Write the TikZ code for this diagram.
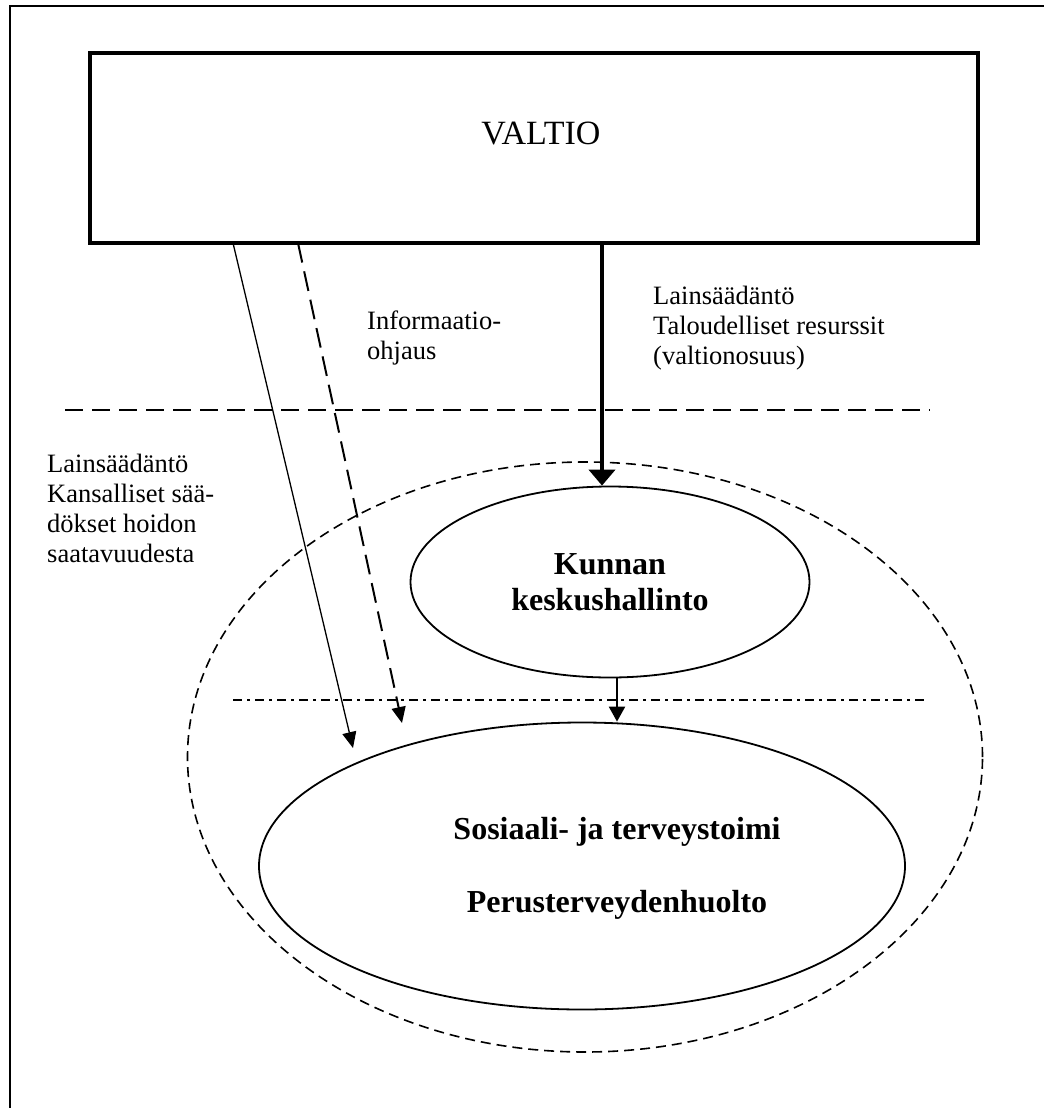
\documentclass[tikz,border=0pt]{standalone}
\usepackage{fontspec}
\setmainfont{Liberation Serif}
\usetikzlibrary{arrows.meta,shapes.geometric,calc}

\tikzset{
  lbl/.style={font=\fontsize{26.5}{30}\selectfont, align=left, inner sep=0pt, anchor=north west},
  titlebox/.style={draw, line width=4pt, rectangle, inner sep=0pt},
  oval/.style={draw, line width=1.8pt, ellipse, inner sep=0pt,
               font=\bfseries\fontsize{32}{36}\selectfont, align=center},
  ovaltext/.style={font=\bfseries\fontsize{32}{36}\selectfont, align=center, inner sep=0pt},
  bigoval/.style={draw, line width=1.6pt, ellipse, inner sep=0pt,
                  dash pattern=on 10pt off 6pt},
  divider/.style={line width=1.5pt, dash pattern=on 18pt off 9pt},
  dashdot/.style={line width=1.5pt, dash pattern=on 9pt off 5pt on 3pt off 5pt},
  thin arrow/.style={line width=1.3pt, -{Triangle[length=16pt,width=14pt]}},
  dash arrow/.style={line width=2pt, dash pattern=on 20pt off 9pt,
                     -{Triangle[length=16pt,width=14pt]}},
  thick arrow/.style={line width=4pt, -{Triangle[length=16pt,width=26pt]}},
  mid arrow/.style={line width=2.2pt, -{Triangle[length=15pt,width=16pt]}},
}

\begin{document}
\begin{tikzpicture}[x=1pt, y=-1pt]
  \useasboundingbox (0,0) rectangle (1044,1108);

  % page frame (top and left edges)
  \draw[line width=2.2pt] (10,1108) -- (10,6) -- (1044,6);

  % state box
  \node[titlebox, minimum width=888pt, minimum height=190pt] (valtio) at (534,148) {};
  \node[font=\fontsize{34}{40}\selectfont, inner sep=0pt] (valtiotext) at (541,134) {VALTIO};

  % level divider
  \coordinate (divL) at (65,410);
  \coordinate (divR) at (930,410);
  \draw[divider] (divL) -- (divR);

  % municipality region
  \node[bigoval, minimum width=795pt, minimum height=590pt] (kunta) at (585,757) {};

  \node[oval, minimum width=399pt, minimum height=191pt] (kunnan) at (610,582)
       {Kunnan\\keskushallinto};

  \node[oval, minimum width=646pt, minimum height=287pt] (sote) at (582,866) {};
  \node[ovaltext] (sotetext) at (617,868)
       {Sosiaali- ja terveystoimi\\[37pt]Perusterveydenhuolto};

  % inner divider
  \coordinate (ddL) at (233,700);
  \coordinate (ddR) at (925,700);
  \draw[dashdot] (ddL) -- (ddR);

  % arrows from the state
  \coordinate (s1) at (233,243);
  \coordinate (e1) at (353,748);
  \draw[thin arrow] (s1) -- (e1);

  \coordinate (s2) at (298,243);
  \coordinate (e2) at (402,723);
  \draw[dash arrow] (s2) -- (e2);

  \coordinate (s3) at (602,243);
  \draw[thick arrow] (s3) -- (s3 |- kunnan.north);

  \coordinate (s4) at (617,677);
  \draw[mid arrow] (s4) -- (s4 |- sote.north);

  % labels
  \node[lbl] (info) at (367,311) {Informaatio-\\ohjaus};
  \node[lbl] (talous) at (653,286) {Lainsäädäntö\\Taloudelliset resurssit\\(valtionosuus)};
  \node[lbl] (kansal) at (47,454) {Lainsäädäntö\\Kansalliset sää-\\dökset hoidon\\saatavuudesta};
\end{tikzpicture}
\end{document}
